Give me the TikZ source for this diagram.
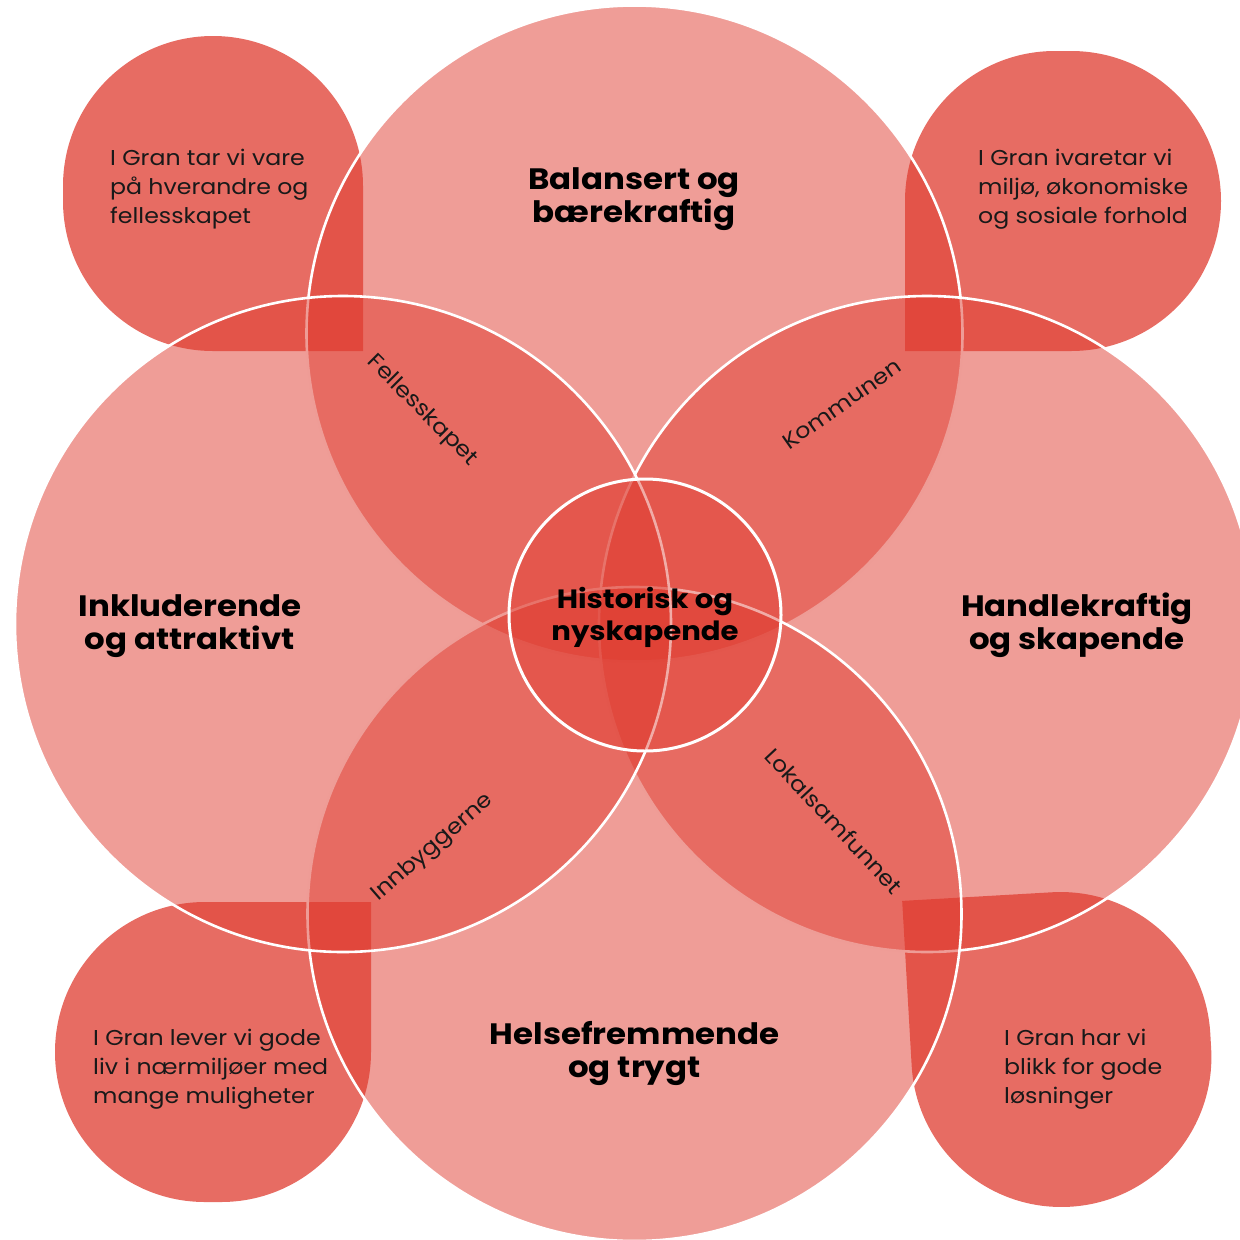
\documentclass[tikz,border=0pt]{standalone}
\usepackage{fontspec}
\setmainfont{Poppins}[FakeStretch=1.1]
\definecolor{gred}{RGB}{223,59,47}
\begin{document}
\begin{tikzpicture}[x=1pt,y=-1pt,
  big/.style={fill=gred, fill opacity=0.5, draw=white, line width=2.6pt},
  small/.style={fill=gred, fill opacity=0.75},
  ctr/.style={fill=gred, fill opacity=0.42, draw=white, line width=3pt},
  title/.style={font=\bfseries\fontsize{29.5}{33}\selectfont, align=center, anchor=base, inner sep=0pt, text=black},
  titlec/.style={font=\bfseries\fontsize{26.5}{32}\selectfont, align=center, anchor=base, inner sep=0pt, text=black},
  body/.style={font=\fontsize{21.5}{29}\selectfont, align=left, anchor=base west, inner sep=0pt, text=black!90},
  lens/.style={font=\fontsize{21.7}{26}\selectfont, inner sep=0pt, text=black!90}]
\useasboundingbox (0,0) rectangle (1240,1240);
\clip (0,0) rectangle (1240,1240);
% corner shapes
\path[small] (363,351) -- (213,351) arc[start angle=90, end angle=180, radius=150]
  -- (63,186) arc[start angle=180, end angle=360, radius=150] -- cycle;
\path[small] (905,351) -- (905,201) arc[start angle=180, end angle=270, radius=150]
  -- (1071,51) arc[start angle=270, end angle=450, radius=150] -- cycle;
\path[small] (371,902) -- (205,902) arc[start angle=270, end angle=90, radius=150]
  -- (221,1202) arc[start angle=90, end angle=0, radius=150] -- cycle;
\path[small, rotate around={3.3:(1061,1050)}] (911,892) -- (1061,892)
  arc[start angle=270, end angle=360, radius=150] -- (1211,1057)
  arc[start angle=0, end angle=180, radius=150] -- cycle;
% big circles
\path[big] (634.5,333.5) circle[radius=328];
\path[big] (927,624) circle[radius=328];
\path[big] (634.5,914) circle[radius=327];
\path[big] (343,624) circle[radius=328];
% centre
\path[ctr] (645,615) circle[radius=136];
% titles (anchor at baseline of last line)
\node[title] (t1) at (634,222) {Balansert og\\bærekraftig};
\node[title] (t2) at (190,649) {Inkluderende\\og attraktivt};
\node[title] (t3) at (1077,649) {Handlekraftig\\og skapende};
\node[title] (t4) at (634.5,1077) {Helsefremmende\\og trygt};
\node[titlec] (t5) at (645,640) {Historisk og\\nyskapende};
% corner texts
\node[body] (s1) at (110,223) {I Gran tar vi vare\\på hverandre og\\fellesskapet};
\node[body] (s2) at (978,223) {I Gran ivaretar vi\\miljø, økonomiske\\og sosiale forhold};
\node[body] (s3) at (93,1103) {I Gran lever vi gode\\liv i nærmiljøer med\\mange muligheter};
\node[body] (s4) at (1004,1103) {I Gran har vi\\blikk for gode\\løsninger};
% lens labels
\node[lens, rotate=-45] (l1) at (422,411) {Fellesskapet};
\node[lens, rotate=35] (l2) at (842,404) {Kommunen};
\node[lens, rotate=41] (l3) at (433,848) {Innbyggerne};
\node[lens, rotate=-47] (l4) at (834,821) {Lokalsamfunnet};
\end{tikzpicture}
\end{document}
